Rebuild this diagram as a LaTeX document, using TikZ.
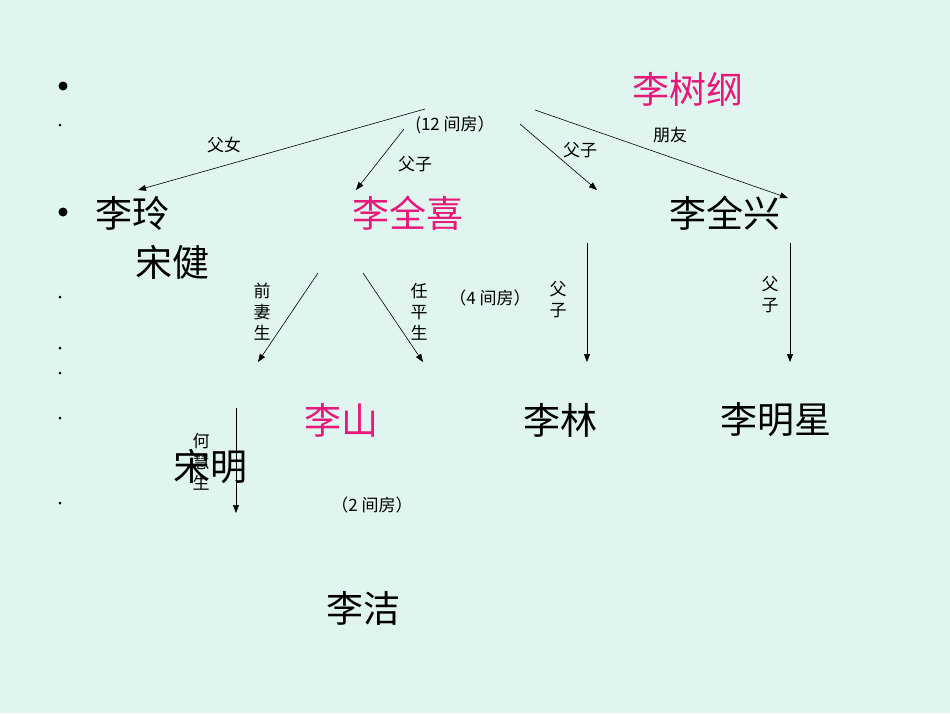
\documentclass[tikz,border=0pt]{standalone}
\usepackage{fontspec}
\setmainfont{Noto Sans CJK SC}
\usetikzlibrary{arrows.meta}
\definecolor{bg}{HTML}{E0F5EF}
\definecolor{pk}{HTML}{E8197A}
\tikzset{
 big/.style={font=\fontsize{37}{40}\selectfont, inner sep=0pt},
 sm/.style={font=\fontsize{17}{20}\selectfont, inner sep=0pt},
 vt/.style={font=\fontsize{17}{21}\selectfont, inner sep=0pt, align=center},
 arr/.style={-{Triangle[length=8pt,width=6pt]}, line width=0.6pt},
 dot/.style={circle, fill=black, inner sep=0pt}
}
\begin{document}
\begin{tikzpicture}[x=1pt,y=-1pt]
\fill[bg] (0,0) rectangle (950,713);
\useasboundingbox (0,0) rectangle (950,713);
\node[dot,minimum size=9pt] (b1) at (63,86) {};
\node[dot,minimum size=9pt] (b2) at (63,212) {};
\foreach \y/\n in {125/a,297/b,348/c,373/d,418/e,503/f} \node[dot,minimum size=3pt] (s\n) at (60,\y) {};
\node[big,text=pk] (sg) at (688,89) {李树纲};
\node[sm] (r12) at (455,125) {(12 间房）};
\node[big] (ll) at (132,213) {李玲};
\node[big,text=pk] (qx) at (408,213) {李全喜};
\node[big] (qxing) at (725,213) {李全兴};
\node[big] (sj) at (172,262) {宋健};
\node[sm] (r4) at (490,298) {（4 间房）};
\node[big,text=pk] (ls) at (341,420) {李山};
\node[big] (lin) at (560,420) {李林};
\node[big] (mx) at (776,420) {李明星};
\node[big] (sm) at (210,467) {宋明};
\node[sm] (r2) at (372,505) {（2 间房）};
\node[big] (lj) at (363,608) {李洁};
\coordinate (a1s) at (425,109); \coordinate (a1e) at (138,190);
\coordinate (a2s) at (404,129); \coordinate (a2e) at (356,190);
\coordinate (a3s) at (520,124); \coordinate (a3e) at (597,190);
\coordinate (a4s) at (535,110); \coordinate (a4e) at (788,198);
\coordinate (a5s) at (318,273); \coordinate (a5e) at (258,362);
\coordinate (a6s) at (363,273); \coordinate (a6e) at (423,362);
\coordinate (a7s) at (587,243); \coordinate (a7e) at (587,362);
\coordinate (a8s) at (790,243); \coordinate (a8e) at (790,362);
\coordinate (a9s) at (236,408); \coordinate (a9e) at (236,513);
\foreach \i in {1,...,9} \draw[arr] (a\i s) -- (a\i e);
\node[sm] (l1) at (224,145) {父女};
\node[sm] (l2) at (415,164) {父子};
\node[sm] (l3) at (580,150) {父子};
\node[sm] (l4) at (670,135) {朋友};
\node[vt] (l5) at (262,312) {前\\妻\\生};
\node[vt] (l6) at (419,312) {任\\平\\生};
\node[vt] (l7) at (558,300) {父\\子};
\node[vt] (l8) at (770,295) {父\\子};
\node[vt] (l9) at (201,462) {何\\慧\\生};
\end{tikzpicture}
\end{document}
